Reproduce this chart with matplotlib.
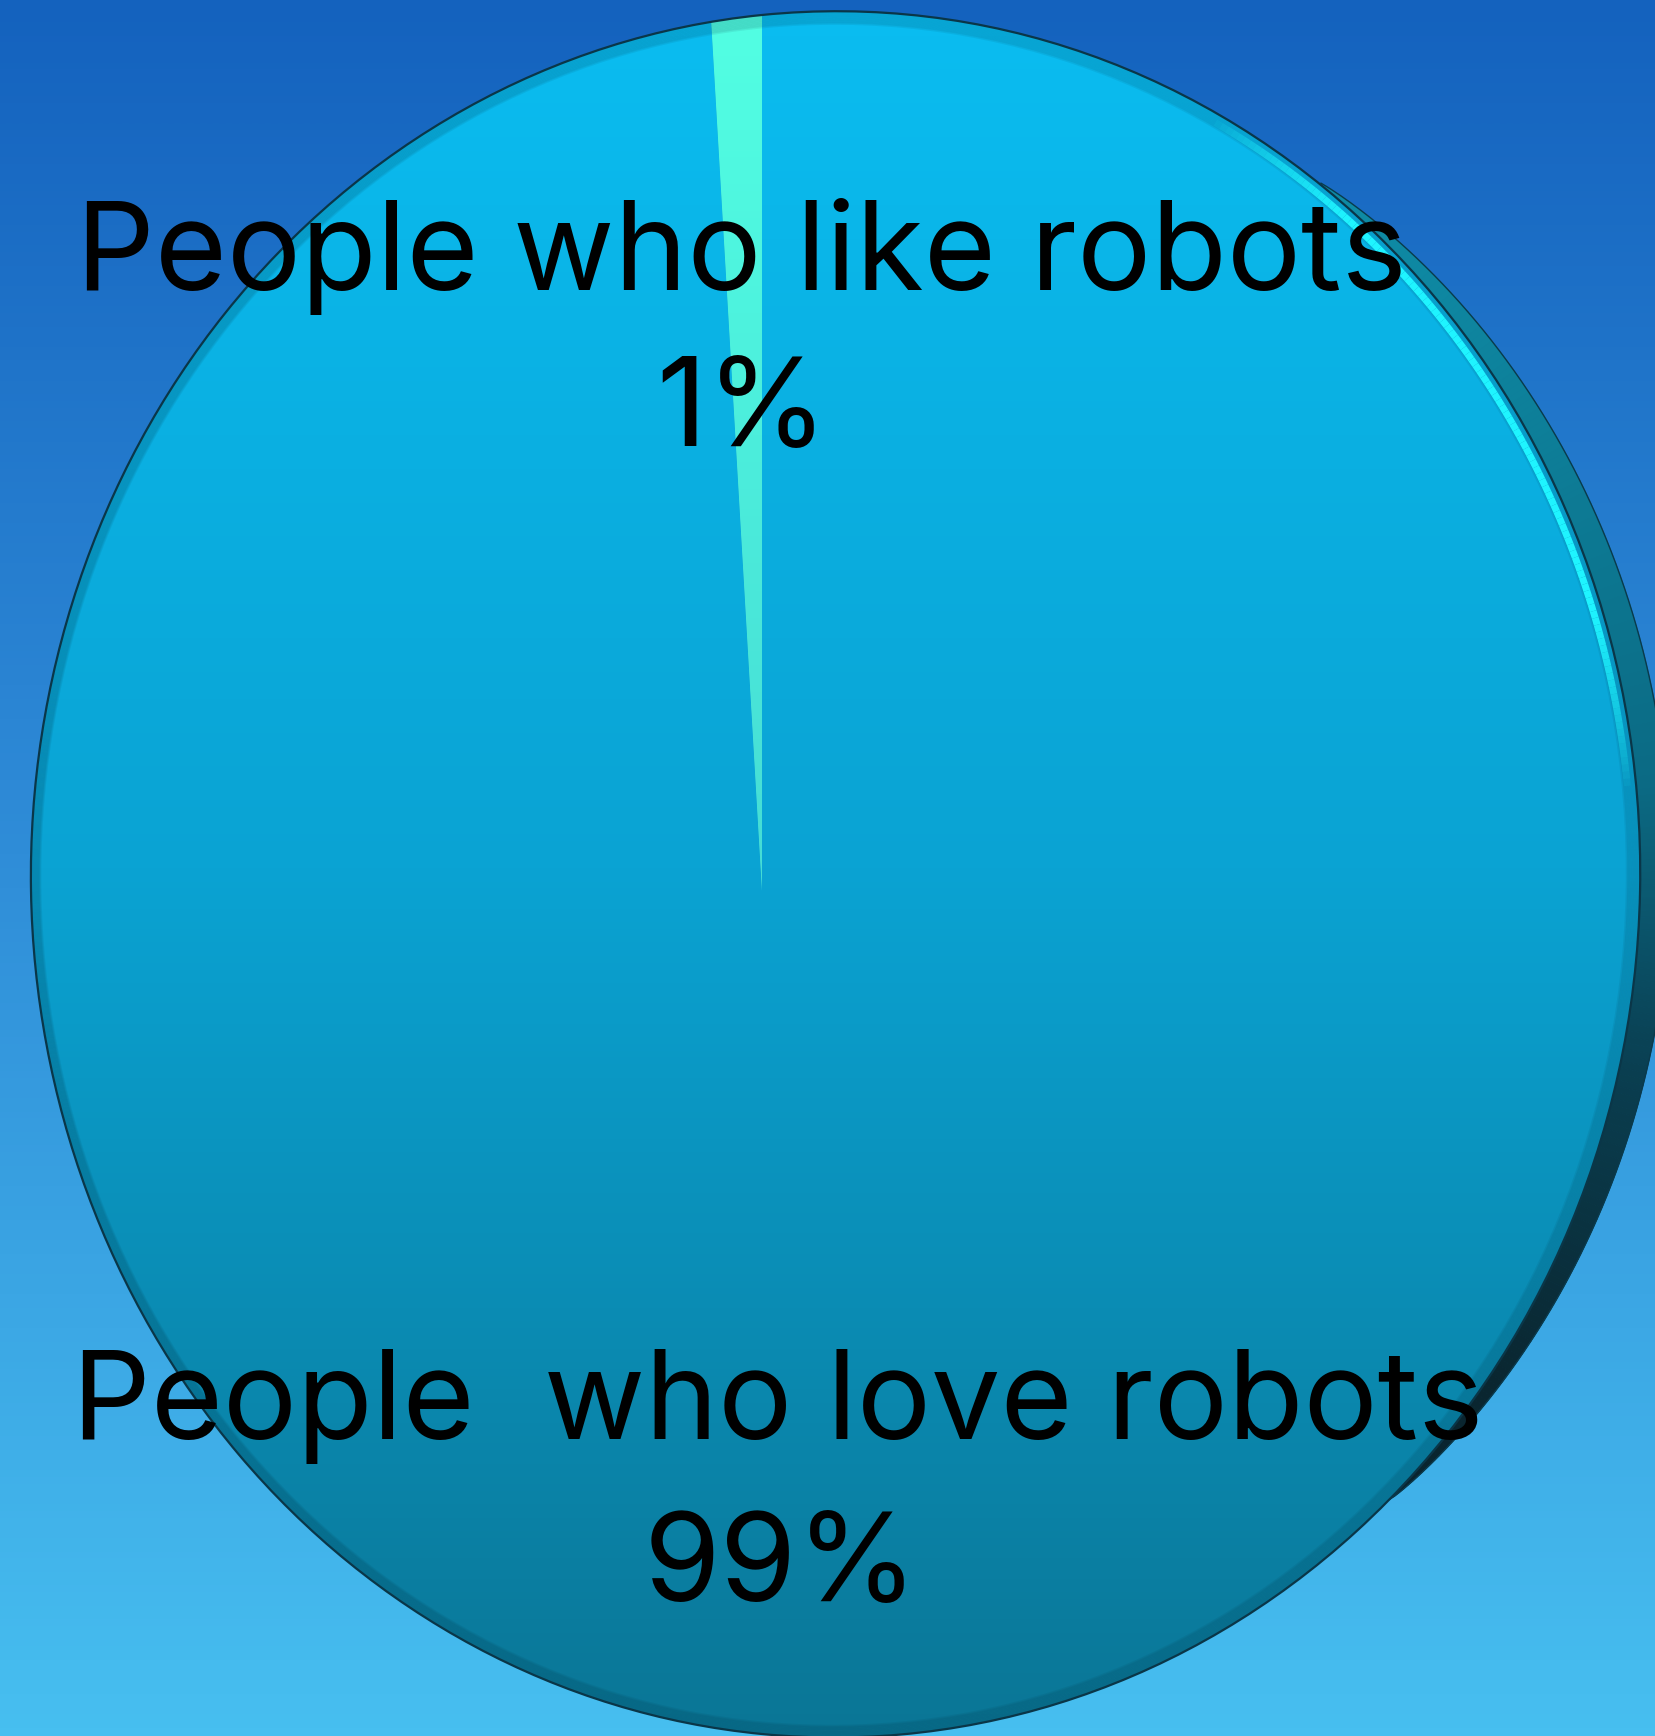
import numpy as np
import matplotlib
matplotlib.use("Agg")
import matplotlib.pyplot as plt
import matplotlib.transforms as mtransforms
from matplotlib.colors import LinearSegmentedColormap, to_rgb
from matplotlib.patches import Circle
from matplotlib.collections import LineCollection, PolyCollection

# ---- data ----
labels = ["People who like robots", "People  who love robots"]
values = [1, 99]
pct_labels = [f"{v}%" for v in values]
slice_colors = ["#4FFFE2", "#0AA8D8"]

W, H = 1656, 1736
fig = plt.figure(figsize=(W / 100, H / 100), dpi=100)
ax = fig.add_axes([0, 0, 1, 1])


class Persp(mtransforms.Transform):
    """Simple perspective (homography) mapping the unit disc onto the page."""
    input_dims = 2
    output_dims = 2
    is_separable = False
    has_inverse = False

    def __init__(self, cx, cy, A, E, g, h):
        super().__init__()
        self.cx, self.cy, self.A, self.E, self.g, self.h = cx, cy, A, E, g, h

    def transform_non_affine(self, xy):
        xy = np.asarray(xy, dtype=float).reshape(-1, 2)
        x, y = xy[:, 0], xy[:, 1]
        w = 1 + self.g * x + self.h * y
        return np.column_stack([self.cx + self.A * x / w, self.cy + self.E * y / w])


P = Persp(762, 845, 797.8, 859.2, -0.0914, -0.0192)
T = P + ax.transData


def grad_img(stops, zorder, clip=None):
    cmap = LinearSegmentedColormap.from_list("g", stops)
    arr = np.linspace(0, 1, 512).reshape(-1, 1)
    im = ax.imshow(arr, cmap=cmap, extent=(0, W, 0, H), origin="upper",
                   aspect="auto", zorder=zorder, interpolation="bilinear")
    if clip is not None:
        im.set_clip_path(clip)
    return im


# background gradient
grad_img([(0, "#1462BE"), (0.45, "#2D89D6"), (1, "#47BFF0")], 0)

# pie
wedges, texts = ax.pie(values, startangle=90, counterclock=True,
                       colors=slice_colors, wedgeprops=dict(linewidth=0))
for w_ in wedges:
    w_.set_transform(T)
    w_.set_zorder(2)

# side band of the 3D disc (right side) as gradient strips
band_cmap = LinearSegmentedColormap.from_list(
    "band", [(0, "#0E90AA"), (0.15, "#0E88A2"), (0.45, "#0B6A84"),
             (0.62, "#0A3E50"), (0.8, "#0A2630"), (1, "#0A2028")])
th = np.linspace(np.radians(50), np.radians(-42), 240)
prof = np.sin(np.pi * (th - th[-1]) / (th[0] - th[-1])) ** 0.7
r_out = 1 + 0.031 * prof
outer = P.transform(np.column_stack([r_out * np.cos(th), r_out * np.sin(th)]))
inner = P.transform(np.column_stack([0.97 * np.cos(th), 0.97 * np.sin(th)]))
quads = [np.array([outer[i], outer[i + 1], inner[i + 1], inner[i]])
         for i in range(len(th) - 1)]
ymid = 0.5 * (outer[:-1, 1] + outer[1:, 1])
band_cols = band_cmap(1 - ymid / H)
ax.add_collection(PolyCollection(quads, facecolors=band_cols,
                                 edgecolors=band_cols, linewidths=0.6,
                                 zorder=1.5))
ax.plot(outer[:, 0], outer[:, 1], color="#0A3A4C", lw=1.0, zorder=1.7)

# face gradients clipped to wedges
grad_img([(0, "#0BBDF1"), (0.5, "#0AA3D3"), (1, "#0A7696")], 3, clip=wedges[1])
grad_img([(0, "#52FFE3"), (0.5, "#46DDD5"), (1, "#3CC8C8")], 3, clip=wedges[0])

# inner shading along the rim
face_clip = Circle((0, 0), 1.0, transform=T, facecolor="none", edgecolor="none")
ax.add_patch(face_clip)
for i in range(10):
    c = Circle((0, 0), 1.0 - i * 0.0015, transform=T, facecolor="none",
               edgecolor="#062C3C", lw=2.0, alpha=0.08, zorder=4)
    ax.add_patch(c)
    c.set_clip_path(face_clip)

# highlight on the upper-right rim
th2 = np.linspace(np.radians(58), np.radians(6), 120)
pts = np.column_stack([0.991 * np.cos(th2), 0.991 * np.sin(th2)])
segs = np.stack([pts[:-1], pts[1:]], axis=1)
tt = np.linspace(0, 1, len(segs))
alph = np.clip(np.sin(np.pi * tt) * 1.6, 0, 1) ** 0.8
base = np.array(to_rgb("#1FF4FF"))
cols = np.column_stack([np.tile(base, (len(segs), 1)), alph])
lc = LineCollection(segs, colors=cols, linewidths=5, transform=T, zorder=4.5,
                    capstyle="butt")
ax.add_collection(lc)

# outline
ax.add_patch(Circle((0, 0), 1.0, transform=T, facecolor="none",
                    edgecolor="#0A3648", lw=1.6, zorder=5))

# labels
fs = 89
font = "Inter"
ax.text(741, 1446, labels[0], ha="center", va="baseline", fontsize=fs,
        family=font, color="black", zorder=6)
ax.text(742, 1290, pct_labels[0], ha="center", va="baseline", fontsize=fs,
        family=font, color="black", zorder=6)
ax.text(778, 297, labels[1], ha="center", va="baseline", fontsize=fs,
        family=font, color="black", zorder=6)
ax.text(781, 135, pct_labels[1], ha="center", va="baseline", fontsize=fs,
        family=font, color="black", zorder=6)

ax.set_aspect("auto")
ax.set_xlim(0, W)
ax.set_ylim(0, H)
ax.axis("off")

fig.savefig("out.png", dpi=100)
